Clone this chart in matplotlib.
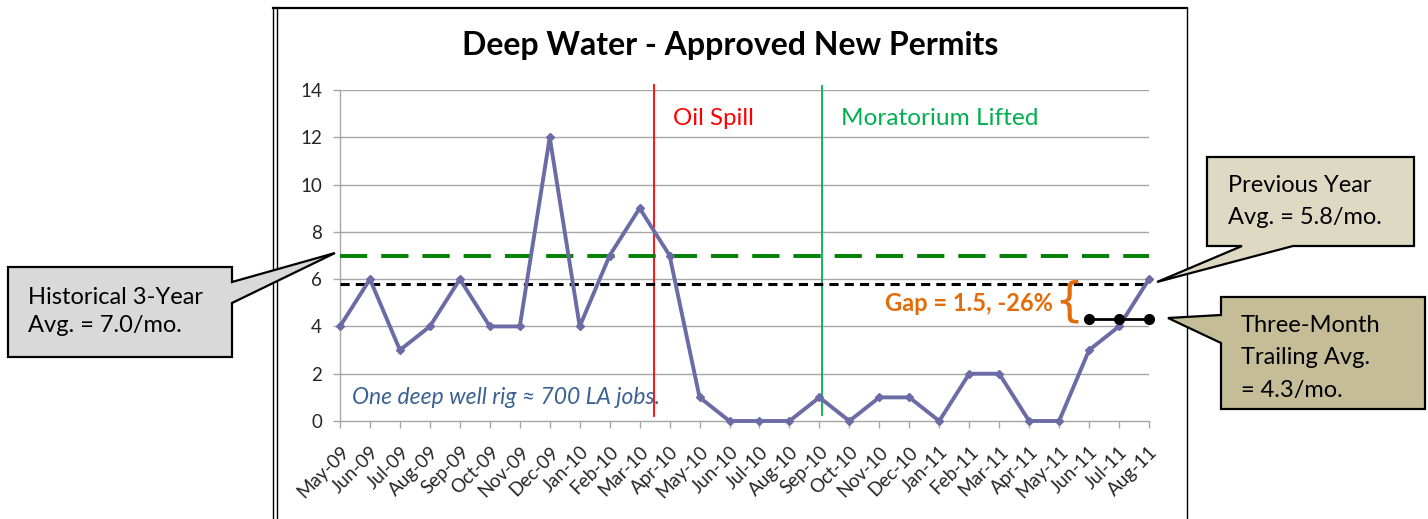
import matplotlib
matplotlib.use("Agg")
import matplotlib.pyplot as plt
from matplotlib.patches import Polygon
from matplotlib.lines import Line2D

plt.rcParams['font.family'] = ['Lato', 'DejaVu Sans']

months = ["May-09", "Jun-09", "Jul-09", "Aug-09", "Sep-09", "Oct-09", "Nov-09", "Dec-09",
          "Jan-10", "Feb-10", "Mar-10", "Apr-10", "May-10", "Jun-10", "Jul-10", "Aug-10",
          "Sep-10", "Oct-10", "Nov-10", "Dec-10", "Jan-11", "Feb-11", "Mar-11", "Apr-11",
          "May-11", "Jun-11", "Jul-11", "Aug-11"]
permits = [4, 6, 3, 4, 6, 4, 4, 12, 4, 7, 9, 7, 1, 0, 0, 0, 1, 0, 1, 1, 0, 2, 2, 0, 0, 3, 4, 6]
hist_avg = 7.0
prev_year_avg = 5.8
trailing_avg = 4.3
trailing_months = ["Jun-11", "Jul-11", "Aug-11"]
oil_spill_pos = 10.47
moratorium_pos = 16.07
yticks = [0, 2, 4, 6, 8, 10, 12, 14]

W, H = 1428, 519
fig = plt.figure(figsize=(W / 100, H / 100), dpi=100)
fig.patch.set_facecolor('white')

def fx(x):
    return x / W

def fy(y):
    return 1 - y / H

ax_l, ax_r, ax_t, ax_b = 340, 1149, 90, 421
ax = fig.add_axes([fx(ax_l), fy(ax_b), fx(ax_r) - fx(ax_l), fy(ax_t) - fy(ax_b)])
x = list(range(len(months)))
ax.set_xlim(0, len(months) - 1)
ax.set_ylim(0, 14)

for v in yticks[1:]:
    ax.axhline(v, color='#a6a6a6', lw=1.0, zorder=1)

for s in ['top', 'right']:
    ax.spines[s].set_visible(False)
for s in ['left', 'bottom']:
    ax.spines[s].set_color('#a6a6a6')
    ax.spines[s].set_linewidth(1.0)

ax.set_yticks(yticks)
ax.set_yticklabels([str(v) for v in yticks], fontsize=13.5, color='#262626')
ax.set_xticks(x)
ax.set_xticklabels(months, rotation=45, ha='right', va='top', rotation_mode='anchor',
                   fontsize=13.5, color='#262626')
ax.tick_params(axis='both', direction='out', length=5, color='#a6a6a6', width=1.0)
ax.tick_params(axis='x', pad=11)
ax.tick_params(axis='y', pad=8)

# reference lines
ax.plot([0, len(months) - 1], [hist_avg, hist_avg], color='#008000', lw=2.8,
        dashes=(7, 3.6), zorder=3)
ax.plot([0, len(months) - 1], [prev_year_avg, prev_year_avg], color='black', lw=2.2,
        dashes=(3, 2), zorder=3)

# event lines
ax.plot([oil_spill_pos, oil_spill_pos], [0.2, 14.2], color='#ff0000', lw=1.3, clip_on=False, zorder=2)
ax.plot([moratorium_pos, moratorium_pos], [0.25, 14.15], color='#00b050', lw=1.3, clip_on=False, zorder=2)
ax.text(oil_spill_pos + 0.65, 12.8, "Oil Spill", color='#ff0000', fontsize=17.4, va='center', ha='left')
ax.text(moratorium_pos + 0.65, 12.8, "Moratorium Lifted", color='#00b050', fontsize=17.6,
        va='center', ha='left')

# series
ax.plot(x, permits, color='#6b6ba5', lw=2.8, marker='D', markersize=4.5,
        markerfacecolor='#6b6ba5', markeredgecolor='#6b6ba5', clip_on=False, zorder=5)

# trailing avg
tx = [months.index(m) for m in trailing_months]
ax.plot(tx, [trailing_avg] * len(tx), color='black', lw=2.0, marker='o', markersize=7,
        clip_on=False, zorder=6)

ax.text(0.4, 1.0, "One deep well rig \u2248 700 LA jobs.", color='#3b6193', fontsize=16.5,
        style='italic', va='center', ha='left', family=['Lato', 'DejaVu Sans'])

# gap label
ax.text(23.8, 4.95, "Gap = 1.5, -26%", color='#e36c09',
        fontsize=17, fontweight='bold', ha='right', va='center')
ax.text(23.85, (prev_year_avg + trailing_avg) / 2, "{", color='#e36c09', fontsize=33,
        ha='left', va='center', family=['DejaVu Sans'])

# title
fig.text(fx(730), fy(46), "Deep Water - Approved New Permits", fontsize=23, fontweight='bold',
         ha='center', va='center', color='black')

# chart frame
for xx in (273, 277):
    fig.add_artist(Line2D([fx(xx), fx(xx)], [fy(7), 0], transform=fig.transFigure,
                          color='black', lw=1.0))
fig.add_artist(Line2D([fx(1187), fx(1187)], [fy(8), 0], transform=fig.transFigure,
                      color='black', lw=1.0))
fig.add_artist(Line2D([fx(273), fx(1187)], [fy(8), fy(8)], transform=fig.transFigure,
                      color='black', lw=1.6))

def callout(pts, fc):
    poly = Polygon([(fx(px), fy(py)) for px, py in pts], closed=True, transform=fig.transFigure,
                   facecolor=fc, edgecolor='black', lw=1.6, zorder=10)
    fig.add_artist(poly)

fs = 17
callout([(8, 267), (232, 267), (232, 282), (335, 253), (232, 303), (232, 357), (8, 357)], '#d9d9d9')
fig.text(fx(28), fy(297), "Historical 3-Year", fontsize=fs, va='center', ha='left', zorder=11)
fig.text(fx(28), fy(326), "Avg. = 7.0/mo.", fontsize=fs, va='center', ha='left', zorder=11)

callout([(1207, 157), (1414, 157), (1414, 246), (1293, 246), (1157, 282), (1242, 246), (1207, 246)],
        '#ddd9c3')
fig.text(fx(1228), fy(185), "Previous Year", fontsize=fs, va='center', ha='left', zorder=11)
fig.text(fx(1228), fy(218), "Avg. = 5.8/mo.", fontsize=fs, va='center', ha='left', zorder=11)

callout([(1221, 297), (1425, 297), (1425, 409), (1221, 409), (1221, 343), (1168, 318), (1221, 315)],
        '#c4bd97')
fig.text(fx(1241), fy(325), "Three-Month", fontsize=fs, va='center', ha='left', zorder=11)
fig.text(fx(1241), fy(358), "Trailing Avg.", fontsize=fs, va='center', ha='left', zorder=11)
fig.text(fx(1241), fy(390), "= 4.3/mo.", fontsize=fs, va='center', ha='left', zorder=11)

fig.savefig("out.png", dpi=100)
